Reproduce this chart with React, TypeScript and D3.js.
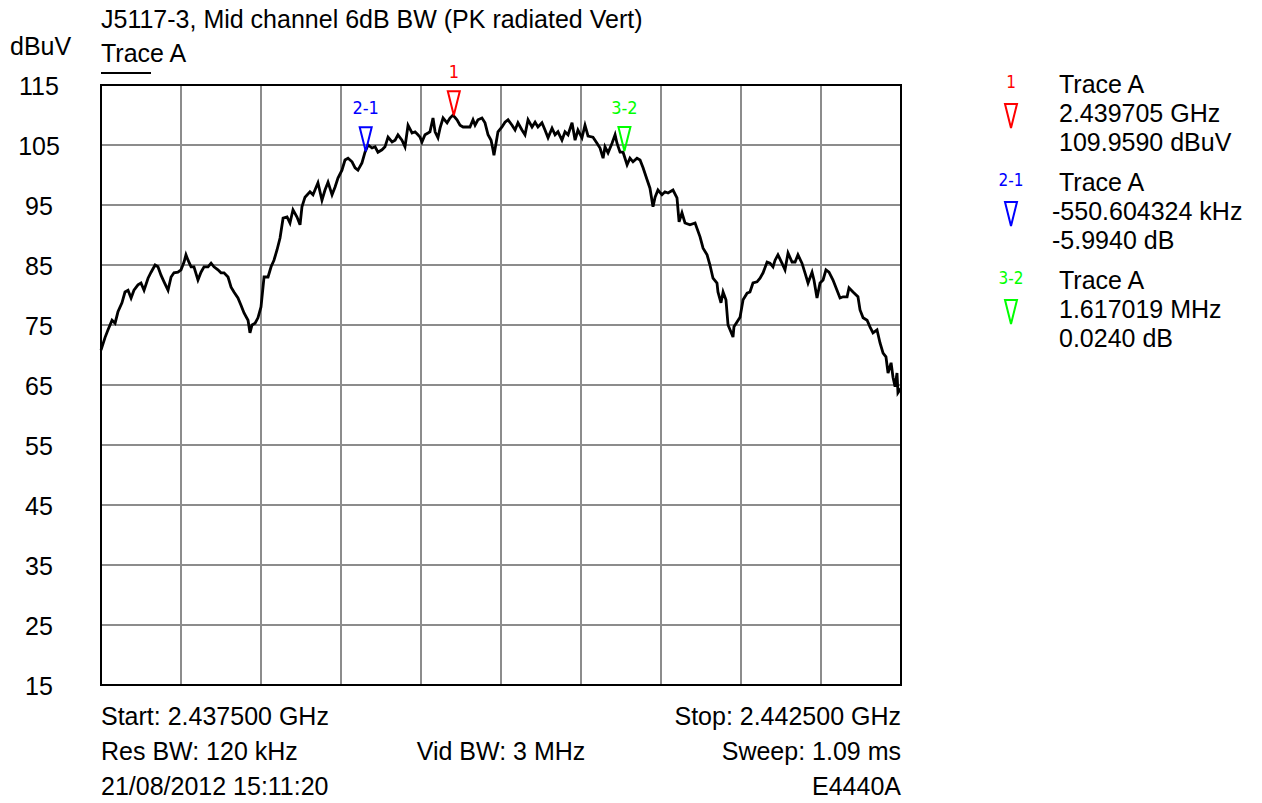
import React, { useEffect, useRef } from 'react';
import * as d3 from 'd3';

// Trace A: frequency (MHz) and level (dBuV)
const traceFreq = [
  2437.5, 2437.525, 2437.544, 2437.569, 2437.588, 2437.606, 2437.631, 2437.65, 2437.669, 2437.688,
  2437.706, 2437.731, 2437.75, 2437.769, 2437.794, 2437.813, 2437.838, 2437.856, 2437.875, 2437.894,
  2437.919, 2437.938, 2437.956, 2437.981, 2438.0, 2438.019, 2438.031, 2438.044, 2438.063, 2438.081,
  2438.106, 2438.125, 2438.144, 2438.169, 2438.188, 2438.206, 2438.231, 2438.25, 2438.269, 2438.294,
  2438.313, 2438.331, 2438.356, 2438.375, 2438.394, 2438.419, 2438.431, 2438.444, 2438.463, 2438.481,
  2438.5, 2438.519, 2438.544, 2438.563, 2438.581, 2438.6, 2438.619, 2438.638, 2438.663, 2438.681,
  2438.7, 2438.725, 2438.744, 2438.756, 2438.775, 2438.806, 2438.825, 2438.856, 2438.881, 2438.9,
  2438.919, 2438.944, 2438.963, 2438.981, 2439.006, 2439.025, 2439.044, 2439.069, 2439.088, 2439.106,
  2439.131, 2439.15, 2439.169, 2439.194, 2439.213, 2439.231, 2439.256, 2439.275, 2439.294, 2439.319,
  2439.338, 2439.356, 2439.381, 2439.4, 2439.419, 2439.444, 2439.463, 2439.481, 2439.494, 2439.506,
  2439.525, 2439.544, 2439.556, 2439.575, 2439.588, 2439.606, 2439.619, 2439.638, 2439.663, 2439.681,
  2439.7, 2439.725, 2439.744, 2439.763, 2439.788, 2439.806, 2439.825, 2439.838, 2439.856, 2439.881,
  2439.9, 2439.919, 2439.938, 2439.95, 2439.956, 2439.969, 2439.981, 2440.006, 2440.025, 2440.044,
  2440.069, 2440.088, 2440.106, 2440.131, 2440.15, 2440.169, 2440.194, 2440.213, 2440.231, 2440.256,
  2440.275, 2440.294, 2440.319, 2440.338, 2440.356, 2440.381, 2440.4, 2440.419, 2440.444, 2440.463,
  2440.481, 2440.506, 2440.525, 2440.544, 2440.575, 2440.6, 2440.619, 2440.638, 2440.65, 2440.669,
  2440.694, 2440.713, 2440.725, 2440.744, 2440.763, 2440.775, 2440.788, 2440.806, 2440.825, 2440.85,
  2440.869, 2440.888, 2440.913, 2440.931, 2440.95, 2440.963, 2440.981, 2441.006, 2441.025, 2441.044,
  2441.075, 2441.1, 2441.113, 2441.131, 2441.15, 2441.181, 2441.213, 2441.244, 2441.263, 2441.288,
  2441.306, 2441.325, 2441.35, 2441.356, 2441.375, 2441.388, 2441.406, 2441.419, 2441.438, 2441.45,
  2441.456, 2441.475, 2441.494, 2441.513, 2441.538, 2441.556, 2441.575, 2441.6, 2441.619, 2441.638,
  2441.663, 2441.681, 2441.7, 2441.713, 2441.731, 2441.756, 2441.775, 2441.794, 2441.819, 2441.838,
  2441.856, 2441.881, 2441.9, 2441.919, 2441.944, 2441.956, 2441.975, 2441.994, 2442.013, 2442.031,
  2442.05, 2442.075, 2442.1, 2442.119, 2442.138, 2442.163, 2442.175, 2442.2, 2442.231, 2442.244,
  2442.263, 2442.288, 2442.306, 2442.325, 2442.35, 2442.369, 2442.388, 2442.406, 2442.419, 2442.438,
  2442.45, 2442.463, 2442.475, 2442.481, 2442.494, 2442.5,
];
const traceLevel = [
  70.8, 72.9, 74.2, 75.8, 75.3, 77.2, 78.7, 80.5, 80.8, 79.5,
  80.8, 81.7, 82.0, 80.8, 82.8, 83.8, 85.0, 84.7, 83.3, 82.2,
  80.8, 83.0, 83.7, 83.8, 84.2, 85.5, 86.7, 85.8, 84.7, 84.7,
  82.5, 83.8, 84.7, 84.7, 85.3, 84.7, 84.2, 83.7, 83.7, 83.0,
  81.3, 80.5, 79.5, 78.3, 77.0, 75.8, 73.7, 75.0, 75.3, 76.2,
  78.0, 83.0, 83.0, 84.7, 85.8, 87.5, 89.5, 92.8, 93.0, 92.0,
  94.2, 93.0, 91.7, 94.7, 96.3, 97.2, 96.7, 98.7, 95.8, 97.5,
  98.8, 96.7, 98.0, 99.5, 100.8, 102.5, 102.8, 102.2, 101.2, 100.8,
  102.0, 103.8, 105.0, 104.5, 104.7, 103.8, 104.2, 104.7, 106.3, 105.5,
  105.8, 106.7, 105.8, 104.7, 108.3, 107.0, 107.2, 106.7, 106.3, 105.5,
  106.7, 107.0, 107.2, 109.5, 107.2, 106.2, 107.8, 109.5, 108.7, 109.5,
  110.0, 109.2, 108.3, 108.0, 108.0, 108.0, 109.2, 108.3, 109.2, 109.5,
  108.7, 106.7, 105.8, 104.2, 103.3, 105.3, 107.2, 108.0, 108.8, 109.2,
  108.3, 107.5, 108.7, 107.5, 106.7, 109.2, 108.0, 108.8, 108.0, 108.7,
  107.5, 106.2, 107.8, 106.7, 107.2, 105.8, 107.2, 106.7, 108.7, 105.8,
  107.5, 106.2, 108.3, 106.5, 106.3, 105.3, 104.5, 102.8, 104.7, 103.7,
  105.3, 106.7, 105.3, 103.8, 103.8, 102.8, 101.7, 102.8, 102.2, 102.8,
  102.5, 101.2, 99.2, 97.8, 94.7, 96.3, 97.5, 96.7, 97.2, 97.0,
  97.5, 96.2, 92.2, 93.7, 92.0, 91.7, 92.0, 89.7, 87.8, 86.7,
  85.0, 82.8, 82.0, 80.5, 78.7, 80.5, 79.2, 75.0, 73.8, 73.0,
  74.7, 75.5, 76.3, 79.2, 80.3, 80.5, 82.0, 82.2, 82.8, 83.7,
  85.5, 85.3, 84.7, 85.8, 86.7, 85.3, 84.2, 87.0, 85.5, 85.5,
  86.7, 85.3, 83.7, 82.0, 83.8, 82.5, 79.5, 82.0, 82.5, 84.2,
  83.8, 82.5, 80.8, 79.5, 79.7, 79.7, 81.2, 80.5, 79.7, 77.5,
  76.2, 75.8, 74.7, 73.7, 74.2, 72.0, 70.3, 69.7, 67.0, 68.7,
  66.3, 64.7, 67.0, 63.7, 64.2, 64.0,
];

const yTicks = [115, 105, 95, 85, 75, 65, 55, 45, 35, 25, 15];
const xGrid = [2437.5, 2438.0, 2438.5, 2439.0, 2439.5, 2440.0, 2440.5, 2441.0, 2441.5, 2442.0, 2442.5];

// markers: name, colour, legend lines
const markerNames = ['1', '2-1', '3-2'];
const markerColors = ['#ff0000', '#0000ff', '#00ff00'];
const marker1 = { freq: 2439.705, level: 109.959 };
const delta21 = { freq: -0.550604324, level: -5.994 };
const delta32 = { freq: 1.617019, level: 0.024 };
const markerReadouts = [
  ['Trace A', '2.439705 GHz', '109.9590 dBuV'],
  ['Trace A', '-550.604324 kHz', '-5.9940 dB'],
  ['Trace A', '1.617019 MHz', '0.0240 dB'],
];

const title = 'J5117-3, Mid channel 6dB BW (PK radiated Vert)';
const footerLeft = ['Start: 2.437500 GHz', 'Res BW: 120 kHz', '21/08/2012 15:11:20'];
const footerMid = ['', 'Vid BW: 3 MHz', ''];
const footerRight = ['Stop: 2.442500 GHz', 'Sweep: 1.09 ms', 'E4440A'];

const FONT = '"Liberation Sans", Arial, sans-serif';
const NARROW = '"Liberation Sans Narrow", "DejaVu Sans Condensed", sans-serif';
const FS = 25;

export default function App() {
  const ref = useRef<SVGSVGElement>(null);

  useEffect(() => {
    if (!ref.current) return;
    const svg = d3.select(ref.current);
    svg.selectAll('*').remove();

    const width = 1262;
    const height = 803;
    const plot = { left: 101, right: 901, top: 85, bottom: 685 };

    svg.attr('width', width).attr('height', height).attr('viewBox', `0 0 ${width} ${height}`);
    svg.append('rect').attr('width', width).attr('height', height).attr('fill', '#fff');

    const x = d3.scaleLinear().domain([2437.5, 2442.5]).range([plot.left, plot.right]);
    const y = d3.scaleLinear().domain([15, 115]).range([plot.bottom, plot.top]);

    // ------- Grid -------
    svg
      .append('g')
      .selectAll('line')
      .data(xGrid.slice(1, -1))
      .enter()
      .append('line')
      .attr('x1', (d) => x(d))
      .attr('x2', (d) => x(d))
      .attr('y1', plot.top)
      .attr('y2', plot.bottom)
      .attr('stroke', '#8c8c8c')
      .attr('stroke-width', 2);

    svg
      .append('g')
      .selectAll('line')
      .data(yTicks.slice(1, -1))
      .enter()
      .append('line')
      .attr('x1', plot.left)
      .attr('x2', plot.right)
      .attr('y1', (d) => y(d))
      .attr('y2', (d) => y(d))
      .attr('stroke', '#8c8c8c')
      .attr('stroke-width', 2);

    svg
      .append('rect')
      .attr('x', plot.left)
      .attr('y', plot.top)
      .attr('width', plot.right - plot.left)
      .attr('height', plot.bottom - plot.top)
      .attr('fill', 'none')
      .attr('stroke', '#000')
      .attr('stroke-width', 2);

    // ------- Y labels -------
    svg
      .append('g')
      .selectAll('text')
      .data(yTicks)
      .enter()
      .append('text')
      .attr('x', 39)
      .attr('y', (d) => y(d) + 10)
      .attr('text-anchor', 'middle')
      .attr('font-family', FONT)
      .attr('font-size', FS)
      .text((d) => d);

    const txt = (tx: number, ty: number, s: string, anchor = 'start', size = FS, fill = '#000', fam = FONT) =>
      svg
        .append('text')
        .attr('x', tx)
        .attr('y', ty)
        .attr('text-anchor', anchor)
        .attr('font-family', fam)
        .attr('font-size', size)
        .attr('fill', fill)
        .text(s);

    txt(101, 28, title);
    txt(10, 55, 'dBuV');
    txt(101, 62, 'Trace A');
    svg
      .append('line')
      .attr('x1', 101)
      .attr('x2', 151)
      .attr('y1', 73)
      .attr('y2', 73)
      .attr('stroke', '#000')
      .attr('stroke-width', 2);

    footerLeft.forEach((s, i) => txt(101, 725 + i * 35, s));
    footerMid.forEach((s, i) => s && txt(501, 725 + i * 35, s, 'middle'));
    footerRight.forEach((s, i) => txt(901, 725 + i * 35, s, 'end'));

    // ------- Trace -------
    const pts = traceFreq.map((f, i) => ({ f, v: traceLevel[i] }));
    const line = d3
      .line<{ f: number; v: number }>()
      .x((d) => x(d.f))
      .y((d) => y(d.v));

    svg
      .append('path')
      .datum(pts)
      .attr('fill', 'none')
      .attr('stroke', '#000')
      .attr('stroke-width', 2.8)
      .attr('stroke-linejoin', 'miter')
      .attr('d', line);

    // ------- Markers -------
    const m2 = { freq: marker1.freq + delta21.freq, level: marker1.level + delta21.level };
    const m3 = { freq: m2.freq + delta32.freq, level: m2.level + delta32.level };
    const markers = [marker1, m2, m3];

    const tri = (cx: number, cy: number) => `M${cx - 6},${cy - 24}L${cx + 6},${cy - 24}L${cx},${cy}Z`;

    markers.forEach((m, i) => {
      const mx = x(m.freq);
      const my = y(m.level);
      svg
        .append('path')
        .attr('d', tri(mx, my))
        .attr('fill', 'none')
        .attr('stroke', markerColors[i])
        .attr('stroke-width', 2);
      txt(mx, my - 37, markerNames[i], 'middle', 18, markerColors[i], NARROW);
    });

    // ------- Marker readouts -------
    markerReadouts.forEach((lines, i) => {
      const top = 88 + i * 98;
      txt(1011, top, markerNames[i], 'middle', 17, markerColors[i], NARROW);
      svg
        .append('path')
        .attr('d', tri(1011, top + 40))
        .attr('fill', 'none')
        .attr('stroke', markerColors[i])
        .attr('stroke-width', 2);
      lines.forEach((s, j) => {
        const lx = s.startsWith('-') ? 1052 : 1059;
        txt(lx, top + 5 + j * 29, s);
      });
    });
  }, []);

  return <svg ref={ref} style={{ position: 'absolute', left: 0, top: 0 }} />;
}
